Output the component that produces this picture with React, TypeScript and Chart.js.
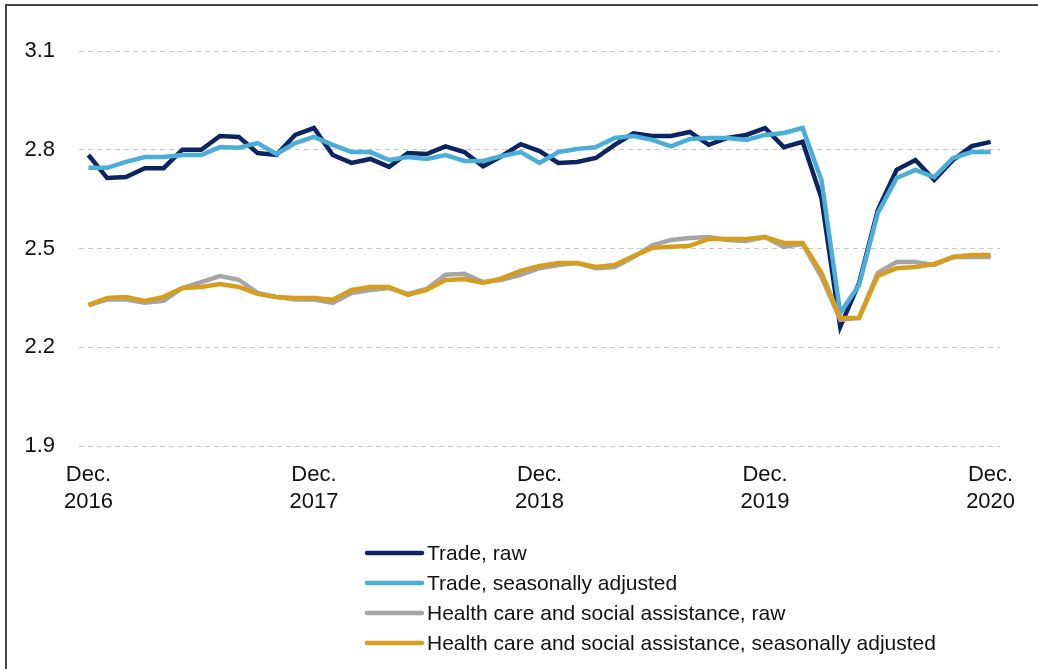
import React, { useEffect, useRef } from "react";
import { Chart, registerables } from "chart.js";

Chart.register(...registerables);

const categories = [
  "Dec 2016", "Jan 2017", "Feb 2017", "Mar 2017", "Apr 2017", "May 2017", "Jun 2017", "Jul 2017", "Aug 2017", "Sep 2017", "Oct 2017", "Nov 2017",
  "Dec 2017", "Jan 2018", "Feb 2018", "Mar 2018", "Apr 2018", "May 2018", "Jun 2018", "Jul 2018", "Aug 2018", "Sep 2018", "Oct 2018", "Nov 2018",
  "Dec 2018", "Jan 2019", "Feb 2019", "Mar 2019", "Apr 2019", "May 2019", "Jun 2019", "Jul 2019", "Aug 2019", "Sep 2019", "Oct 2019", "Nov 2019",
  "Dec 2019", "Jan 2020", "Feb 2020", "Mar 2020", "Apr 2020", "May 2020", "Jun 2020", "Jul 2020", "Aug 2020", "Sep 2020", "Oct 2020", "Nov 2020",
  "Dec 2020",
];

const tradeRaw = [
  2.784, 2.714, 2.717, 2.744, 2.744, 2.800, 2.800, 2.842, 2.839, 2.790, 2.784, 2.845,
  2.866, 2.784, 2.760, 2.772, 2.748, 2.790, 2.787, 2.810, 2.793, 2.750, 2.781, 2.817,
  2.796, 2.760, 2.763, 2.775, 2.815, 2.850, 2.842, 2.842, 2.854, 2.815, 2.836, 2.845,
  2.866, 2.808, 2.824, 2.653, 2.262, 2.395, 2.617, 2.739, 2.769, 2.708, 2.769, 2.811,
  2.824,
];

const tradeSA = [
  2.745, 2.745, 2.763, 2.778, 2.778, 2.784, 2.784, 2.808, 2.806, 2.820, 2.787, 2.820,
  2.839, 2.815, 2.793, 2.793, 2.769, 2.778, 2.772, 2.784, 2.766, 2.766, 2.781, 2.793,
  2.760, 2.793, 2.802, 2.808, 2.836, 2.842, 2.830, 2.810, 2.833, 2.836, 2.836, 2.830,
  2.845, 2.851, 2.866, 2.708, 2.304, 2.389, 2.608, 2.714, 2.739, 2.717, 2.775, 2.793,
  2.793,
];

const healthRaw = [
  2.328, 2.345, 2.345, 2.335, 2.341, 2.380, 2.398, 2.416, 2.405, 2.365, 2.353, 2.345,
  2.345, 2.335, 2.365, 2.374, 2.380, 2.362, 2.377, 2.420, 2.423, 2.398, 2.405, 2.420,
  2.440, 2.450, 2.456, 2.440, 2.444, 2.474, 2.510, 2.526, 2.532, 2.535, 2.526, 2.523,
  2.535, 2.505, 2.514, 2.414, 2.283, 2.289, 2.426, 2.459, 2.459, 2.450, 2.474, 2.474,
  2.474,
];

const healthSA = [
  2.328, 2.350, 2.353, 2.341, 2.353, 2.380, 2.383, 2.392, 2.383, 2.362, 2.353, 2.350,
  2.350, 2.344, 2.374, 2.383, 2.383, 2.359, 2.374, 2.404, 2.407, 2.395, 2.410, 2.432,
  2.447, 2.456, 2.456, 2.444, 2.450, 2.477, 2.502, 2.505, 2.508, 2.529, 2.529, 2.529,
  2.535, 2.517, 2.517, 2.426, 2.289, 2.289, 2.417, 2.440, 2.444, 2.453, 2.474, 2.480,
  2.480,
];

const seriesNames = [
  "Trade, raw",
  "Trade, seasonally adjusted",
  "Health care and social assistance, raw",
  "Health care and social assistance, seasonally adjusted",
];
const seriesColors = ["#0c2461", "#4aaed8", "#a5a5a5", "#d59e1f"];
const yTicks = [1.9, 2.2, 2.5, 2.8, 3.1];

const FONT = "'Liberation Sans', Arial, sans-serif";

const framePlugin = {
  id: "frameAndLegend",
  afterDraw(chart: any) {
    const ctx = chart.ctx;
    ctx.save();
    // frame
    ctx.fillStyle = "#474747";
    ctx.fillRect(5, 4, 2, 700);
    ctx.fillRect(5, 4, 1100, 2);
    // legend
    const x0 = 365;
    const swatchW = 57;
    const rows = [553, 583, 613, 643];
    ctx.font = `21px ${FONT}`;
    ctx.textBaseline = "middle";
    ctx.textAlign = "left";
    chart.data.datasets.forEach((ds: any, i: number) => {
      const y = rows[i];
      ctx.strokeStyle = ds.borderColor;
      ctx.lineWidth = 4.5;
      ctx.lineCap = "round";
      ctx.beginPath();
      ctx.moveTo(x0 + 2, y);
      ctx.lineTo(x0 + swatchW, y);
      ctx.stroke();
      ctx.fillStyle = "#111111";
      ctx.fillText(ds.label, x0 + swatchW + 5, y + 1);
    });
    ctx.restore();
  },
};

export default function App() {
  const canvasRef = useRef<HTMLCanvasElement | null>(null);

  useEffect(() => {
    document.body.style.margin = "0";
    document.body.style.overflow = "hidden";
    const canvas = canvasRef.current;
    if (!canvas) return;
    const data = [tradeRaw, tradeSA, healthRaw, healthSA];
    const orders = [3, 2, 1, 0];
    const chart = new Chart(canvas, {
      type: "line",
      data: {
        labels: categories,
        datasets: data.map((d, i) => ({
          label: seriesNames[i],
          data: d,
          borderColor: seriesColors[i],
          backgroundColor: seriesColors[i],
          borderWidth: 4.5,
          pointRadius: 0,
          tension: 0,
          fill: false,
          order: orders[i],
        })),
      },
      options: {
        animation: false,
        responsive: true,
        maintainAspectRatio: false,
        layout: { padding: { top: 51, right: 38, left: 0, bottom: 0 } },
        plugins: {
          legend: { display: false },
          tooltip: { enabled: false },
        },
        scales: {
          x: {
            type: "category",
            offset: true,
            grid: { display: false, drawTicks: false },
            border: { display: false },
            afterFit: (scale: any) => {
              scale.height = 223;
            },
            ticks: {
              autoSkip: false,
              maxRotation: 0,
              minRotation: 0,
              padding: 15,
              color: "#111111",
              font: { family: FONT, size: 22, lineHeight: 1.23 },
              callback: (_v: any, index: number) => {
                if (index % 12 !== 0) return null;
                const parts = categories[index].split(" ");
                return ["Dec.", parts[1]];
              },
            },
          },
          y: {
            min: yTicks[0],
            max: yTicks[yTicks.length - 1],
            afterFit: (scale: any) => {
              scale.width = 79;
            },
            afterBuildTicks: (scale: any) => {
              scale.ticks = yTicks.map((v) => ({ value: v }));
            },
            grid: {
              color: "#c9c9c9",
              lineWidth: 1,
              drawTicks: false,
            },
            border: { display: false, dash: [5, 4] },
            ticks: {
              padding: 24,
              color: "#111111",
              font: { family: FONT, size: 22 },
              callback: (v: any) => Number(v).toFixed(1),
            },
          },
        },
      },
      plugins: [framePlugin],
    });
    return () => chart.destroy();
  }, []);

  return (
    <div style={{ position: "relative", width: 1038, height: 669 }}>
      <canvas ref={canvasRef} />
    </div>
  );
}
